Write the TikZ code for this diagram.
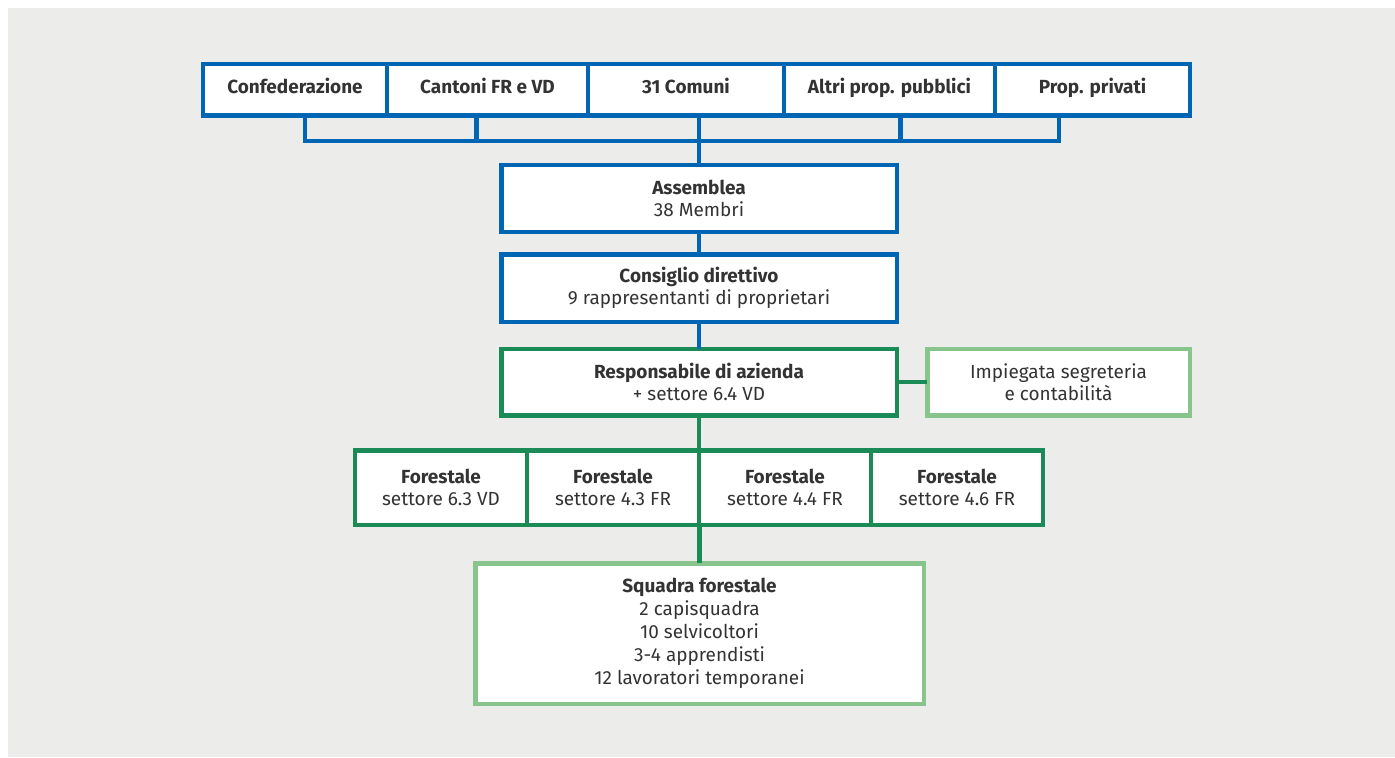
\documentclass[tikz,border=0pt]{standalone}
\usepackage{fontspec}
\setmainfont{Fira Sans}
\usepackage{xcolor}
\usepackage{tikz}
\usetikzlibrary{positioning}

\definecolor{orgblue}{RGB}{0,102,179}
\definecolor{darkgreen}{RGB}{26,138,86}
\definecolor{lightgreen}{RGB}{136,197,140}
\definecolor{panel}{RGB}{236,236,234}
\definecolor{txt}{RGB}{51,51,51}

\begin{document}
\begin{tikzpicture}[
	box/.style={draw, fill=white, line width=0.09cm, outer sep=0pt, inner sep=2pt, align=center, text=txt, font=\fontsize{10.8}{12.5}\selectfont},
	bluebox/.style={box, draw=orgblue},
	ownerbox/.style={bluebox, minimum height=1.03cm, text height=7.6pt, text depth=3.5pt, font=\fontsize{10.8}{12.5}\selectfont\bfseries},
	greenbox/.style={box, draw=darkgreen},
	palebox/.style={box, draw=lightgreen},
	blueline/.style={draw=orgblue, line width=0.09cm},
	greenline/.style={draw=darkgreen, line width=0.09cm},
	node distance=0cm
	]
	\useasboundingbox (0,0) rectangle (27.9,15.14);
	\fill[panel] (0.16,0) rectangle (27.9,14.98);

	% owners
	\node[ownerbox, minimum width=3.68cm] (conf) at (5.9,13.34) {Confederazione};
	\node[ownerbox, minimum width=4.02cm, right=of conf] (cant) {Cantoni FR e VD};
	\node[ownerbox, minimum width=3.92cm, right=of cant] (comuni) {31 Comuni};
	\node[ownerbox, minimum width=4.22cm, right=of comuni] (altri) {Altri prop. pubblici};
	\node[ownerbox, minimum width=3.90cm, right=of altri] (priv) {Prop. privati};

	\coordinate (b1) at (6.10,12.32);
	\coordinate (b2) at (9.53,12.32);
	\coordinate (b4) at (18.01,12.32);
	\coordinate (b5) at (21.18,12.32);
	\draw[blueline] (conf.south -| b1) -- (b1) -- (b5) -- (priv.south -| b5);
	\draw[blueline] (cant.south -| b2) -- (b2);
	\draw[blueline] (altri.south -| b4) -- (b4);

	% organs
	\node[bluebox, minimum width=7.91cm, minimum height=1.33cm] (asm) at (13.98,11.17) {{\bfseries Assemblea}\\38 Membri};
	\node[bluebox, minimum width=7.91cm, minimum height=1.35cm] (cons) at (13.98,9.38) {{\bfseries Consiglio direttivo}\\9 rappresentanti di proprietari};
	\node[greenbox, minimum width=7.91cm, minimum height=1.33cm] (resp) at (13.98,7.50) {{\bfseries Responsabile di azienda}\\+ settore 6.4 VD};
	\node[palebox, minimum width=5.25cm, minimum height=1.33cm] (imp) at (21.17,7.50) {Impiegata segreteria\\e contabilità};

	\draw[blueline] (asm.north |- comuni.south) -- (asm.north);
	\draw[blueline] (asm) -- (cons);
	\draw[blueline] (cons) -- (resp);
	\draw[greenline] (resp) -- (imp);

	% forest rangers
	\node[greenbox, minimum width=3.44cm, minimum height=1.49cm] (f1) at (8.82,5.39) {{\bfseries Forestale}\\settore 6.3 VD};
	\node[greenbox, minimum width=3.44cm, minimum height=1.49cm, right=of f1] (f2) {{\bfseries Forestale}\\settore 4.3 FR};
	\node[greenbox, minimum width=3.44cm, minimum height=1.49cm, right=of f2] (f3) {{\bfseries Forestale}\\settore 4.4 FR};
	\node[greenbox, minimum width=3.44cm, minimum height=1.49cm, right=of f3] (f4) {{\bfseries Forestale}\\settore 4.6 FR};

	\node[palebox, minimum width=8.97cm, minimum height=2.81cm, font=\fontsize{10.8}{13}\selectfont] (squad) at (13.99,2.47) {{\bfseries Squadra forestale}\\2 capisquadra\\10 selvicoltori\\3-4 apprendisti\\12 lavoratori temporanei};

	\draw[greenline] (resp.south) -- (resp.south |- f2.north);
	\draw[greenline] (squad.north |- f2.south) -- (squad.north);
\end{tikzpicture}
\end{document}
